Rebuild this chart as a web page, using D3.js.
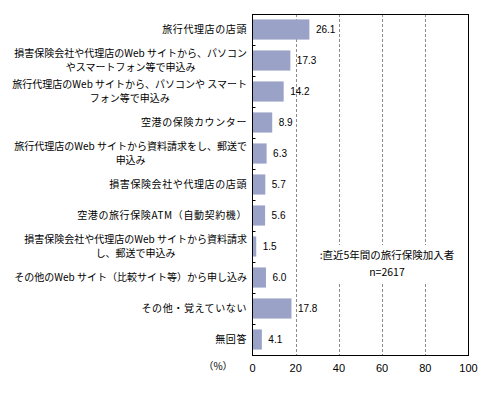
<!DOCTYPE html>
<html><head><meta charset="utf-8">
<script src="https://cdn.jsdelivr.net/npm/d3@7"></script>
<style>body{margin:0;background:#fff}svg{display:block}</style>
</head><body>
<script>
const categories = [
  ["旅行代理店の店頭"],
  ["損害保険会社や代理店のWeb サイトから、パソコン","やスマートフォン等で申込み"],
  ["旅行代理店のWeb サイトから、パソコンや スマート","フォン等で申込み"],
  ["空港の保険カウンター"],
  ["旅行代理店のWeb サイトから資料請求をし、郵送で","申込み"],
  ["損害保険会社や代理店の店頭"],
  ["空港の旅行保険ATM（自動契約機）"],
  ["損害保険会社や代理店のWeb サイトから資料請求","し、郵送で申込み"],
  ["その他のWeb サイト（比較サイト等）から申し込み"],
  ["その他・覚えていない"],
  ["無回答"]
];
const values = [26.1, 17.3, 14.2, 8.9, 6.3, 5.7, 5.6, 1.5, 6.0, 17.8, 4.1];
const xTicks = [0, 20, 40, 60, 80, 100];
const unitLabel = "（%）";
const noteLines = [":直近5年間の旅行保険加入者", "n=2617"];

const W = 490, H = 395;
const m = {left: 252.5, right: 468.5, top: 14, bottom: 355};
const svg = d3.select("body").append("svg").attr("width", W).attr("height", H);
const jp = "'Noto Sans CJK JP','Noto Sans',sans-serif";

const x = d3.scaleLinear().domain([0, 100]).range([m.left, m.right]);
const y = d3.scaleBand().domain(d3.range(categories.length)).range([m.top, m.bottom]).padding(0);
const bh = y.bandwidth() * 0.65;

// gridlines
svg.append("g").selectAll("line").data(xTicks.filter(t => t > 0 && t < 100)).join("line")
  .attr("x1", d => Math.round(x(d)) + 0.5).attr("x2", d => Math.round(x(d)) + 0.5)
  .attr("y1", m.top).attr("y2", m.bottom)
  .attr("stroke", "#8a8a8a").attr("stroke-width", 1).attr("stroke-dasharray", "3,2");

// bars
svg.append("g").selectAll("rect").data(values).join("rect")
  .attr("x", x(0) + 0.5)
  .attr("y", (d, i) => y(i) + (y.bandwidth() - bh) / 2)
  .attr("width", d => x(d) - x(0))
  .attr("height", bh)
  .attr("fill", "#9aa2c8");

// value labels
svg.append("g").selectAll("text").data(values).join("text")
  .attr("x", d => x(d) + 7)
  .attr("y", (d, i) => y(i) + y.bandwidth() / 2)
  .attr("dy", "0.35em")
  .attr("font-family", "'Liberation Sans',Arial,sans-serif").attr("font-size", 10)
  .attr("fill", "#000")
  .text(d => d.toFixed(1));

// annotation with white background
svg.append("rect").attr("x", 314).attr("y", 245).attr("width", 148).attr("height", 37).attr("fill", "#fff");
svg.append("g").selectAll("text").data(noteLines).join("text")
  .attr("x", 387).attr("y", (d, i) => 255 + i * 17).attr("dy", "0.35em")
  .attr("text-anchor", "middle")
  .attr("font-family", jp).attr("font-size", 10.5).attr("fill", "#000")
  .text(d => d);

// frame
svg.append("rect").attr("x", m.left).attr("y", m.top + 0.5)
  .attr("width", m.right - m.left).attr("height", m.bottom - m.top)
  .attr("fill", "none").attr("stroke", "#000").attr("stroke-width", 1);

// left axis inward ticks at band boundaries
svg.append("g").selectAll("line").data(d3.range(1, categories.length)).join("line")
  .attr("x1", m.left).attr("x2", m.left + 3)
  .attr("y1", i => Math.round(y(i)) + 0.5).attr("y2", i => Math.round(y(i)) + 0.5)
  .attr("stroke", "#000");

// category labels
const labelRight = 247;
const lineGap = 14.5;
categories.forEach((lines, i) => {
  const cy = y(i) + y.bandwidth() / 2;
  const g = svg.append("g");
  const spaced = lines.length === 1 && lines[0].length <= 20;
  const texts = lines.map((t, j) => g.append("text")
    .attr("y", cy + (j - (lines.length - 1) / 2) * lineGap)
    .attr("dy", "0.35em")
    .attr("text-anchor", "middle")
    .attr("font-family", jp).attr("font-size", 10).attr("fill", "#000")
    .attr("letter-spacing", spaced ? 0.6 : 0)
    .text(t));
  const maxW = d3.max(texts, t => t.node().getComputedTextLength());
  texts.forEach(t => t.attr("x", labelRight - maxW / 2));
});

// x axis tick labels
svg.append("g").selectAll("text").data(xTicks).join("text")
  .attr("x", d => x(d)).attr("y", 368).attr("dy", "0.35em")
  .attr("text-anchor", "middle")
  .attr("font-family", "'Liberation Sans',Arial,sans-serif").attr("font-size", 11)
  .attr("fill", "#000")
  .text(d => d);

svg.append("text").attr("x", 218).attr("y", 366).attr("dy", "0.35em")
  .attr("text-anchor", "middle")
  .attr("font-family", jp).attr("font-size", 10).attr("fill", "#000")
  .text(unitLabel);
</script>
</body></html>
